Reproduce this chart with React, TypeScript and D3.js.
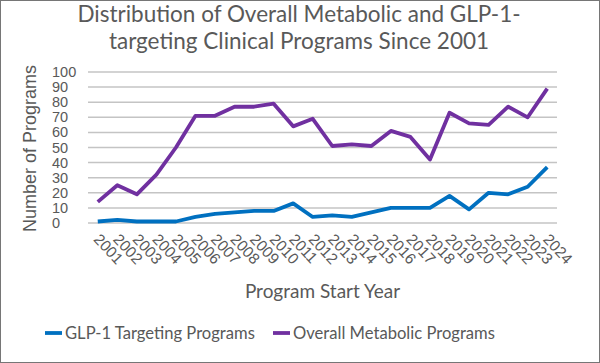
import * as d3 from 'd3';
import { useEffect, useRef } from 'react';

const years = d3.range(2001, 2025).map(String);
const glp1 = [1, 2, 1, 1, 1, 4, 6, 7, 8, 8, 13, 4, 5, 4, 7, 10, 10, 10, 18, 9, 20, 19, 24, 37];
const metabolic = [14, 25, 19, 32, 50, 71, 71, 77, 77, 79, 64, 69, 51, 52, 51, 61, 57, 42, 73, 66, 65, 77, 70, 89];
const yTicks = [0, 10, 20, 30, 40, 50, 60, 70, 80, 90, 100];
const seriesNames = ['GLP-1 Targeting Programs', 'Overall Metabolic Programs'];
const colors = ['#0070C0', '#7030A0'];

const W = 600;
const H = 363;

const App = () => {
  const ref = useRef(null);

  useEffect(() => {
    const svg = d3.select(ref.current);
    svg.selectAll('*').remove();

    const margin = { top: 72, left: 88, right: 43, bottom: 140 };
    const innerW = W - margin.left - margin.right;
    const innerH = H - margin.top - margin.bottom;

    svg.append('rect')
      .attr('x', 0.5).attr('y', 0.5)
      .attr('width', W - 1).attr('height', H - 1)
      .style('fill', '#fff').style('stroke', '#767676');

    const x = d3.scaleBand().domain(years).range([0, innerW]);
    const y = d3.scaleLinear().domain([0, 100]).range([innerH, 0]);

    const g = svg.append('g').attr('transform', `translate(${margin.left},${margin.top})`);

    g.selectAll('.grid')
      .data(yTicks)
      .enter()
      .append('line')
      .attr('x1', 0).attr('x2', innerW)
      .attr('y1', (d) => y(d)).attr('y2', (d) => y(d))
      .style('stroke', '#c4c4c4').style('stroke-width', 1.5);

    g.selectAll('.ytick')
      .data(yTicks)
      .enter()
      .append('text')
      .attr('x', -36)
      .attr('y', (d) => y(d) + 5)
      .text((d) => d)
      .style('font-family', 'Liberation Sans, Arial, sans-serif')
      .style('font-size', '14.5px')
      .style('fill', '#595959');

    g.selectAll('.xtick')
      .data(years)
      .enter()
      .append('text')
      .attr('transform', (d) => `translate(${x(d) + x.bandwidth() / 2 - 5},${innerH + 17}) rotate(47)`)
      .text((d) => d)
      .style('font-family', 'Liberation Sans, Arial, sans-serif')
      .style('font-size', '15.5px')
      .style('fill', '#595959');

    const line = d3.line<number>()
      .x((d, i) => x(years[i]) + x.bandwidth() / 2)
      .y((d) => y(d));

    [glp1, metabolic].forEach((s, i) => {
      g.append('path')
        .datum(s)
        .attr('d', line)
        .style('fill', 'none')
        .style('stroke', colors[i])
        .style('stroke-width', 3.8)
        .style('stroke-linejoin', 'round');
    });

    const title = svg.append('text')
      .attr('text-anchor', 'middle')
      .style('font-family', 'Lato, sans-serif')
      .style('font-size', '22.5px')
      .style('fill', '#595959');
    title.append('tspan').attr('x', 299).attr('y', 22).text('Distribution of Overall Metabolic and GLP-1-');
    title.append('tspan').attr('x', 299).attr('y', 49).text('targeting Clinical Programs Since 2001');

    svg.append('text')
      .attr('transform', `translate(36,${margin.top + innerH / 2 + 1}) rotate(-90)`)
      .attr('text-anchor', 'middle')
      .text('Number of Programs')
      .style('font-family', 'Liberation Sans, Arial, sans-serif')
      .style('font-size', '18px')
      .style('fill', '#595959');

    svg.append('text')
      .attr('x', margin.left + innerW / 2)
      .attr('y', 298)
      .attr('text-anchor', 'middle')
      .text('Program Start Year')
      .style('font-family', 'Lato, sans-serif')
      .style('font-size', '19px')
      .style('fill', '#595959');

    const legendX = [45, 273];
    seriesNames.forEach((name, i) => {
      svg.append('line')
        .attr('x1', legendX[i]).attr('x2', legendX[i] + 17)
        .attr('y1', 333).attr('y2', 333)
        .style('stroke', colors[i]).style('stroke-width', 3.8);
      svg.append('text')
        .attr('x', legendX[i] + 20)
        .attr('y', 339)
        .text(name)
        .style('font-family', 'Lato, sans-serif')
        .style('font-size', '16.6px')
        .style('fill', '#595959');
    });
  }, []);

  return (
    <svg ref={ref} width={W} height={H} style={{ position: 'absolute', left: 0, top: 0 }}></svg>
  );
};

export default App;
